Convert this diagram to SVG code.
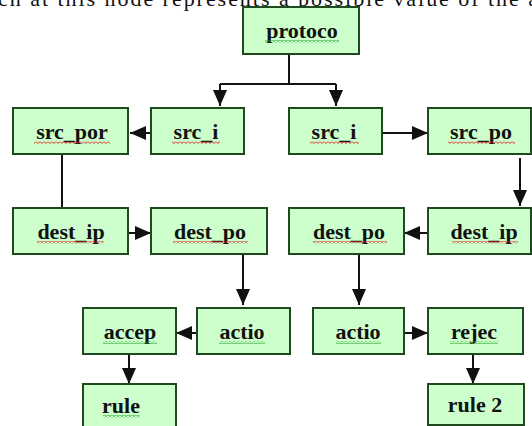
<svg xmlns="http://www.w3.org/2000/svg" width="532" height="426" viewBox="0 0 532 426">
<style>
.box{fill:#ccffcc;stroke:#1f4a1f;stroke-width:2}
.lbl{font-family:"Liberation Serif","Times New Roman",serif;font-weight:bold;font-size:22px;fill:#111;text-anchor:middle}
.top{font-family:"Liberation Serif","Times New Roman",serif;font-size:22px;fill:#111}
.con{fill:none;stroke:#111;stroke-width:2}
</style>
<defs>
<marker id="ah" markerUnits="userSpaceOnUse" markerWidth="16" markerHeight="14" refX="16" refY="7" orient="auto">
<path d="M0,0 L16,7 L0,14 Z" fill="#111"/>
</marker>
<pattern id="sqR" patternUnits="userSpaceOnUse" width="4" height="3">
<path d="M0,0.5 L2,2.5 L4,0.5" fill="none" stroke="#e02020" stroke-width="1"/>
</pattern>
<pattern id="sqG" patternUnits="userSpaceOnUse" width="4" height="3">
<path d="M0,0.5 L2,2.5 L4,0.5" fill="none" stroke="#20a020" stroke-width="1"/>
</pattern>
</defs>
<rect width="532" height="426" fill="#ffffff"/>
<text class="top" x="-2" y="6" textLength="540" lengthAdjust="spacing">ch at this node represents a possible value of the a</text>

<g id="connectors">
<path class="con" d="M289,55 V84 M220,84 H336"/>
<path class="con" d="M220,84 V106" marker-end="url(#ah)"/>
<path class="con" d="M336,84 V106" marker-end="url(#ah)"/>
<path class="con" d="M151,133 H130" marker-end="url(#ah)"/>
<path class="con" d="M382,133 H428" marker-end="url(#ah)"/>
<path class="con" d="M62,155 V208"/>
<path class="con" d="M520,158 V206" marker-end="url(#ah)"/>
<path class="con" d="M128,233 H151" marker-end="url(#ah)"/>
<path class="con" d="M428,233 H404" marker-end="url(#ah)"/>
<path class="con" d="M243,255 V305" marker-end="url(#ah)"/>
<path class="con" d="M359,255 V305" marker-end="url(#ah)"/>
<path class="con" d="M197,333 H176" marker-end="url(#ah)"/>
<path class="con" d="M404,333 H428" marker-end="url(#ah)"/>
<path class="con" d="M129,355 V384" marker-end="url(#ah)"/>
<path class="con" d="M473,355 V384" marker-end="url(#ah)"/>
</g>

<g id="n-protoco"><rect class="box" x="243" y="7" width="116" height="47"/><text class="lbl" x="302" y="38">protoco</text><rect x="265" y="40" width="74" height="3" fill="url(#sqG)"/></g>

<g id="n-src-por"><rect class="box" x="13" y="108" width="115" height="46"/><text class="lbl" x="72" y="139">src_por</text><rect x="34" y="141" width="76" height="3" fill="url(#sqR)"/></g>
<g id="n-src-i-left"><rect class="box" x="151" y="108" width="93" height="46"/><text class="lbl" x="196" y="139">src_i</text><rect x="172" y="141" width="48" height="3" fill="url(#sqR)"/></g>
<g id="n-src-i-right"><rect class="box" x="289" y="108" width="93" height="46"/><text class="lbl" x="334" y="139">src_i</text><rect x="310" y="141" width="49" height="3" fill="url(#sqR)"/></g>
<g id="n-src-po"><rect class="box" x="428" y="108" width="103" height="46"/><text class="lbl" x="481" y="139">src_po</text><rect x="448" y="141" width="67" height="3" fill="url(#sqR)"/></g>

<g id="n-dest-ip-left"><rect class="box" x="13" y="208" width="115" height="46"/><text class="lbl" x="71" y="239">dest_ip</text><rect x="37" y="241" width="67" height="3" fill="url(#sqR)"/></g>
<g id="n-dest-po-left"><rect class="box" x="151" y="208" width="116" height="46"/><text class="lbl" x="210" y="239">dest_po</text><rect x="173" y="241" width="75" height="3" fill="url(#sqR)"/></g>
<g id="n-dest-po-right"><rect class="box" x="289" y="208" width="115" height="46"/><text class="lbl" x="349" y="239">dest_po</text><rect x="313" y="241" width="74" height="3" fill="url(#sqR)"/></g>
<g id="n-dest-ip-right"><rect class="box" x="428" y="208" width="103" height="46"/><text class="lbl" x="484" y="239">dest_ip</text><rect x="452" y="241" width="66" height="3" fill="url(#sqR)"/></g>

<g id="n-accep"><rect class="box" x="83" y="308" width="93" height="46"/><text class="lbl" x="130" y="339">accep</text><rect x="103" y="341" width="54" height="3" fill="url(#sqG)"/></g>
<g id="n-actio-left"><rect class="box" x="197" y="308" width="93" height="46"/><text class="lbl" x="242" y="339">actio</text><rect x="219" y="341" width="46" height="3" fill="url(#sqG)"/></g>
<g id="n-actio-right"><rect class="box" x="313" y="308" width="91" height="46"/><text class="lbl" x="358" y="339">actio</text><rect x="336" y="341" width="45" height="3" fill="url(#sqG)"/></g>
<g id="n-rejec"><rect class="box" x="428" y="308" width="95" height="46"/><text class="lbl" x="474" y="339">rejec</text><rect x="450" y="341" width="48" height="3" fill="url(#sqG)"/></g>

<g id="n-rule"><rect class="box" x="83" y="384" width="93" height="47"/><text class="lbl" x="121" y="413">rule</text><rect x="103" y="415" width="37" height="3" fill="url(#sqG)"/></g>
<g id="n-rule-2"><rect class="box" x="428" y="384" width="96" height="41"/><text class="lbl" x="475" y="412">rule 2</text></g>
</svg>
